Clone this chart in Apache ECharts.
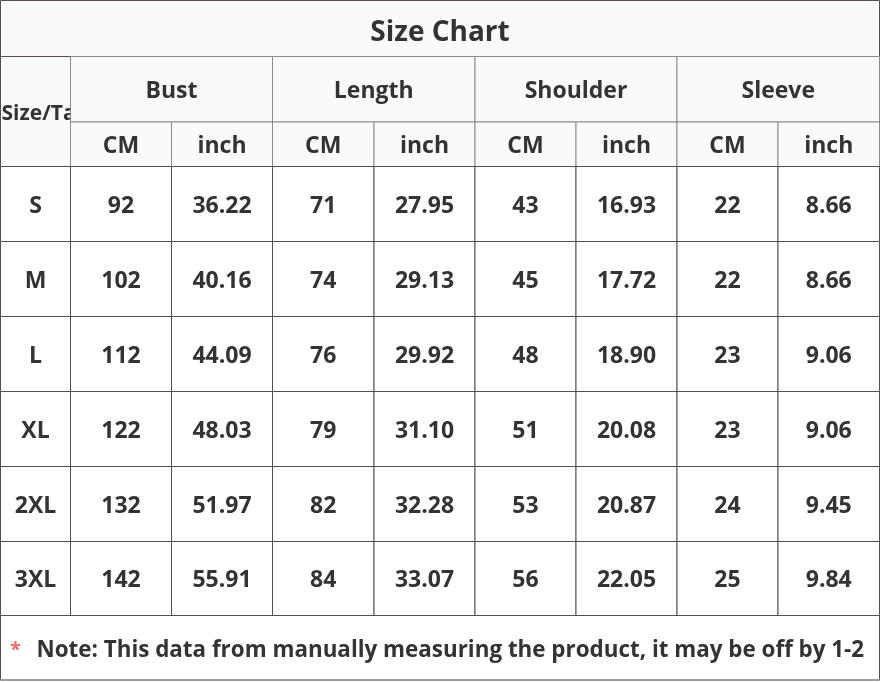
<!DOCTYPE html>
<html>
<head>
<meta charset="utf-8">
<script src="https://cdn.jsdelivr.net/npm/echarts@6/dist/echarts.min.js"></script>
<style>
html,body{margin:0;padding:0;background:#ffffff;}
#chart{width:880px;height:682px;}
</style>
</head>
<body>
<div id="chart"></div>
<script>
// ---- data ----
var titleText = 'Size Chart';
var sizeHeader = 'Size/Tag';
var groups = ['Bust', 'Length', 'Shoulder', 'Sleeve'];
var units = ['CM', 'inch'];
var sizes = ['S', 'M', 'L', 'XL', '2XL', '3XL'];
var bustCm = [92, 102, 112, 122, 132, 142];
var bustInch = ['36.22', '40.16', '44.09', '48.03', '51.97', '55.91'];
var lengthCm = [71, 74, 76, 79, 82, 84];
var lengthInch = ['27.95', '29.13', '29.92', '31.10', '32.28', '33.07'];
var shoulderCm = [43, 45, 48, 51, 53, 56];
var shoulderInch = ['16.93', '17.72', '18.90', '20.08', '20.87', '22.05'];
var sleeveCm = [22, 22, 23, 23, 24, 25];
var sleeveInch = ['8.66', '8.66', '9.06', '9.06', '9.45', '9.84'];
var noteMark = '*';
var noteText = 'Note: This data from manually measuring the product, it may be off by 1-2';

// ---- layout (axis units) ----
var colEdges = [0.5, 70.5, 171.5, 272.5, 374, 475, 576, 677, 778, 879.5];
var rowEdges = [0.5, 56.5, 122, 166.5, 241.5, 316.5, 391.5, 466.5, 541.5, 615.5, 680];

var columns = [bustCm, bustInch, lengthCm, lengthInch, shoulderCm, shoulderInch, sleeveCm, sleeveInch];

// cells: [c0, r0, c1, r1, text, kind]
var cells = [];
cells.push([0, 0, 9, 1, titleText, 'title']);
cells.push([0, 1, 1, 3, sizeHeader, 'sizehead']);
groups.forEach(function (g, i) {
  cells.push([1 + i * 2, 1, 3 + i * 2, 2, g, 'head']);
  units.forEach(function (u, j) {
    cells.push([1 + i * 2 + j, 2, 2 + i * 2 + j, 3, u, 'head']);
  });
});
sizes.forEach(function (s, r) {
  cells.push([0, 3 + r, 1, 4 + r, s, 'data']);
  columns.forEach(function (col, c) {
    cells.push([1 + c, 3 + r, 2 + c, 4 + r, String(col[r]), 'data']);
  });
});
cells.push([0, 9, 9, 10, noteText, 'note']);

var seriesData = cells.map(function (c) {
  return [colEdges[c[0]], rowEdges[c[1]], colEdges[c[2]], rowEdges[c[3]], c[4], c[5]];
});

var FONT = '"Open Sans", "Noto Sans", sans-serif';
var TXT = '#333333';

function renderItem(params, api) {
  var d = seriesData[params.dataIndex];
  var p0 = api.coord([d[0], d[1]]);
  var p1 = api.coord([d[2], d[3]]);
  var x = p0[0], y = p0[1], w = p1[0] - p0[0], h = p1[1] - p0[1];
  var kind = d[5];
  var isHead = (kind === 'head' || kind === 'sizehead' || kind === 'title');
  var children = [];
  children.push({
    type: 'rect',
    shape: { x: x, y: y, width: w, height: h },
    style: {
      fill: isHead ? '#fafafa' : '#ffffff',
      stroke: kind === 'head' ? '#8e8989' : '#574f4f',
      lineWidth: 1
    }
  });
  if (kind === 'note') {
    children.push({
      type: 'line',
      shape: { x1: x, y1: y + h, x2: x + w, y2: y + h },
      style: { stroke: '#9a9a9a', lineWidth: 2 }
    });
    children.push({
      type: 'text',
      style: {
        text: noteMark, x: x + 15, y: y + h / 2 + 3,
        align: 'center', verticalAlign: 'middle',
        font: 'bold 20px ' + FONT, fill: '#f26d6d'
      }
    });
    children.push({
      type: 'text',
      style: {
        text: d[4], x: x + 36, y: y + h / 2 + 3,
        align: 'left', verticalAlign: 'middle',
        font: 'bold 22.4px ' + FONT, fill: TXT
      }
    });
  } else if (kind === 'sizehead') {
    children.push({
      type: 'text',
      style: {
        text: d[4], x: x + 1, y: y + h / 2 + 3,
        align: 'left', verticalAlign: 'middle',
        font: 'bold 21px ' + FONT, fill: TXT
      }
    });
  } else if (kind === 'title') {
    children.push({
      type: 'text',
      style: {
        text: d[4], x: x + w / 2, y: y + h / 2 + 5,
        align: 'center', verticalAlign: 'middle',
        font: 'bold 28px ' + FONT, fill: TXT
      }
    });
  } else {
    children.push({
      type: 'text',
      style: {
        text: d[4], x: x + w / 2, y: y + h / 2 + 2,
        align: 'center', verticalAlign: 'middle',
        font: 'bold 23px ' + FONT, fill: TXT
      }
    });
  }
  return { type: 'group', children: children };
}

var chart = echarts.init(document.getElementById('chart'), null, { renderer: 'canvas' });
chart.setOption({
  backgroundColor: '#ffffff',
  animation: false,
  grid: { left: 0, right: 0, top: 0, bottom: 0 },
  xAxis: { type: 'value', min: 0, max: 880, show: false },
  yAxis: { type: 'value', min: 0, max: 682, inverse: true, show: false },
  series: [{
    type: 'custom',
    renderItem: renderItem,
    data: seriesData.map(function (d, i) { return [d[0], d[1], d[2], d[3], i]; }),
    encode: { x: [0, 2], y: [1, 3] },
    clip: false,
    silent: true
  }]
});
</script>
</body>
</html>
